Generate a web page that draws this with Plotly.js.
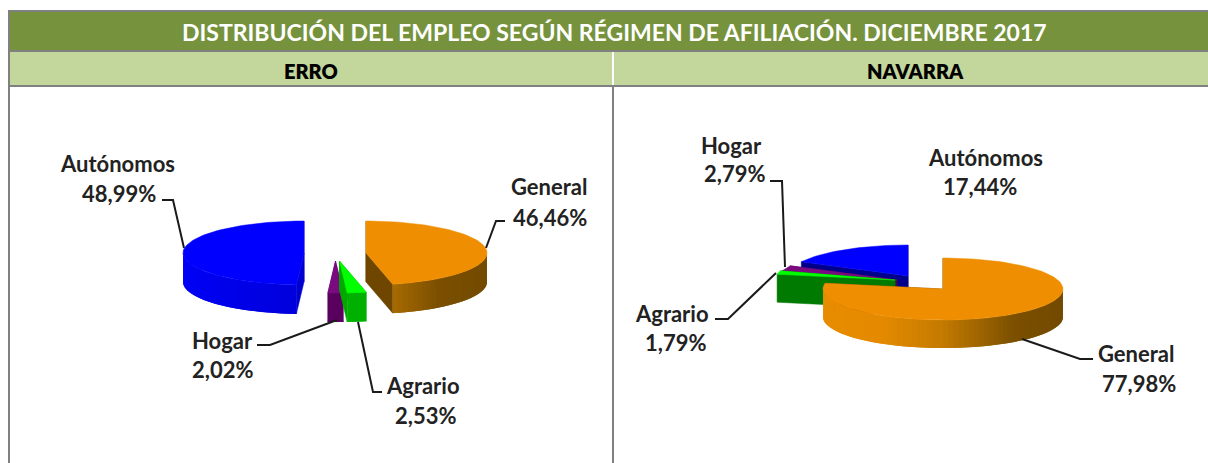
<!DOCTYPE html>
<html><head><meta charset="utf-8">
<script src="https://cdn.plot.ly/plotly-3.0.1.min.js"></script>
<style>html,body{margin:0;padding:0;background:#fff}#c{width:1208px;height:463px}</style></head>
<body><div id="c"></div>
<script>
// ---- data ----
const titleText = 'DISTRIBUCIÓN DEL EMPLEO SEGÚN RÉGIMEN DE AFILIACIÓN. DICIEMBRE 2017';
const panelNames = ['ERRO', 'NAVARRA'];
const categories = ['General', 'Agrario', 'Hogar', 'Autónomos'];
const erroValues = [46.46, 2.53, 2.02, 48.99];
const navarraValues = [77.98, 1.79, 2.79, 17.44];

// ---- styles & placement (pixel-mapped axes) ----
const W = 1208, H = 463;
const FONT = 'Lato, "Open Sans", sans-serif';
const LABEL_FONT = {family: FONT, size: 22, color: '#222', weight: 700};
const palette = {
  General: {top:'#ee8e00', cut:'#6f4600',
    wall:[[0,[232,140,0]],[0.24,[228,138,0]],[0.5,[195,122,0]],[0.8,[122,79,0]],[1,[115,74,0]]]},
  Agrario: {top:'#00ff00', cut:'#00a800', wall:[[0,[0,176,0]],[1,[0,176,0]]]},
  Hogar: {top:'#7a0a80', cut:'#5a005f', wall:[[0,[90,0,95]],[1,[90,0,95]]]},
  'Autónomos': {top:'#0000ff', cut:'#0000d0',
    wall:[[0,[0,0,245]],[0.55,[0,0,215]],[1,[0,0,150]]]}
};
const pieErro = {rx:121, ry:32, depth:29,
  centers:{General:[366,253], Agrario:[339.5,261], Hogar:[335.5,261], 'Autónomos':[304,253]},
  cuts:{}};
const pieNav = {rx:120, ry:31, depth:28,
  centers:{General:[943,289], Agrario:[895,280], Hogar:[897,280], 'Autónomos':[908,276]},
  cuts:{Agrario:'#007a00', Hogar:'#4a0050', 'Autónomos':'#00008a', General:'#6f4600'}};
const drawOrder = ['Autónomos','Hogar','Agrario','General'];

const traces = [];
function poly(xs, ys, color, lw){
  traces.push({type:'scatter', mode:'lines', x:xs, y:ys, fill:'toself', fillcolor:color,
    line:{color:color, width:lw||0}, hoverinfo:'skip', showlegend:false});
}
function shade(stops, t){
  for(let i=1;i<stops.length;i++){
    if(t<=stops[i][0]){
      const f=(t-stops[i-1][0])/(stops[i][0]-stops[i-1][0]);
      const p=stops[i-1][1], q=stops[i][1];
      return 'rgb('+p.map((v,k)=>Math.round(v+(q[k]-v)*f)).join(',')+')';
    }
  }
  return 'rgb('+stops[stops.length-1][1].join(',')+')';
}
function drawPie(values, pie){
  const rim = (c,deg)=>{ const a=deg*Math.PI/180; return [c[0]+pie.rx*Math.sin(a), c[1]-pie.ry*Math.cos(a)]; };
  let acc = 0; const spans = {};
  categories.forEach((n,i)=>{ const s=acc*3.6; acc+=values[i]; spans[n]=[s,acc*3.6]; });
  drawOrder.forEach(name=>{
    const [a0,a1] = spans[name], c = pie.centers[name], st = palette[name];
    const cut = pie.cuts[name] || st.cut, D = pie.depth;
    [a0,a1].forEach(a=>{
      const r = rim(c,a);
      poly([c[0],r[0],r[0],c[0],c[0]],[c[1],r[1],r[1]+D,c[1]+D,c[1]],cut,0.5);
    });
    // outer wall, front half only: strips ordered along x, each overlapping the next
    const lo = Math.max(a0,90), hi = Math.min(a1,270);
    if(hi>lo){
      const n = Math.max(2,Math.ceil((hi-lo)/2.5));
      for(let i=n-1;i>=0;i--){
        const b0=lo+(hi-lo)*i/n, b1=lo+(hi-lo)*(i+1)/n;
        const b2=Math.max(lo,b0-(hi-lo)/n);   // overlap strip on the far side
        const t=(Math.sin((b0+b1)*Math.PI/360)+1)/2;
        const xs=[],ys=[];
        const steps=[b2,b0,b1];
        steps.forEach(b=>{const p=rim(c,b);xs.push(p[0]);ys.push(p[1]);});
        steps.slice().reverse().forEach(b=>{const p=rim(c,b);xs.push(p[0]);ys.push(p[1]+D);});
        xs.push(xs[0]);ys.push(ys[0]);
        poly(xs,ys,shade(st.wall,t));
      }
    }
    // top face
    const xs=[c[0]], ys=[c[1]];
    const n = Math.max(4,Math.ceil((a1-a0)/2));
    for(let i=0;i<=n;i++){ const r=rim(c,a0+(a1-a0)*i/n); xs.push(r[0]); ys.push(r[1]); }
    xs.push(c[0]); ys.push(c[1]);
    poly(xs,ys,st.top,0.5);
  });
}
drawPie(erroValues, pieErro);
drawPie(navarraValues, pieNav);

// leader lines
const leaders = [
  [[162,173,184],[200,200,248]],
  [[486,496,505],[248,221,221]],
  [[337,270,257],[320,345,345]],
  [[358,373,382],[322,392,392]],
  [[785,782,770],[267,181,181]],
  [[776,728,715],[273,319,319]],
  [[1022,1080,1093],[339,359,359]]
];
leaders.forEach(l=>traces.push({type:'scatter',mode:'lines',x:l[0],y:l[1],
  line:{color:'#1a1a1a',width:2},hoverinfo:'skip',showlegend:false}));

const fmt = v => v.toFixed(2).replace('.',',') + '%';
// [name x, name y, value x, value y]
const labelPosErro = {General:[549,186,550,217],Agrario:[423,385,425,415],Hogar:[222,340,222,369],'Autónomos':[117,163,119,193]};
const labelPosNav = {General:[1136,353,1139,383],Agrario:[672,313,675,342],Hogar:[731,145,734,173],'Autónomos':[985,157,980,186]};
const annotations = [];
const addText=(x,y,text,font)=>annotations.push({x,y,xref:'x',yref:'y',showarrow:false,xanchor:'center',yanchor:'middle',text,font});
[[labelPosErro,erroValues],[labelPosNav,navarraValues]].forEach(([pos,vals])=>{
  categories.forEach((n,i)=>{
    const a = pos[n];
    addText(a[0],a[1],n,LABEL_FONT);
    addText(a[2],a[3],fmt(vals[i]),LABEL_FONT);
  });
});
addText(614.5,32,titleText,{family:FONT,size:23,color:'#fff',weight:700});
addText(311,71,panelNames[0],{family:FONT,size:20,color:'#000',weight:800});
addText(915,71,panelNames[1],{family:FONT,size:20,color:'#000',weight:800});

const rect=(x0,y0,x1,y1,c)=>({type:'rect',xref:'x',yref:'y',x0,y0,x1,y1,fillcolor:c,line:{width:0},layer:'below'});
const shapes=[
  rect(9,12,1208,50,'#76923c'),
  rect(9,51,1208,85,'#c3d69b'),
  rect(8,10,1208,12,'#808080'),
  rect(8,50,1208,52,'#808080'),
  rect(8,85,1208,87,'#808080'),
  rect(8,10,10,463,'#808080'),
  rect(612,87,614,463,'#808080'),
  rect(612,52,614,85,'#ffffff')
];

Plotly.newPlot('c',traces,{
  width:W,height:H,margin:{l:0,r:0,t:0,b:0},
  paper_bgcolor:'#fff',plot_bgcolor:'#fff',showlegend:false,
  xaxis:{range:[0,W],visible:false,fixedrange:true},
  yaxis:{range:[H,0],visible:false,fixedrange:true},
  annotations,shapes,hovermode:false
},{displayModeBar:false,staticPlot:true});
</script></body></html>
